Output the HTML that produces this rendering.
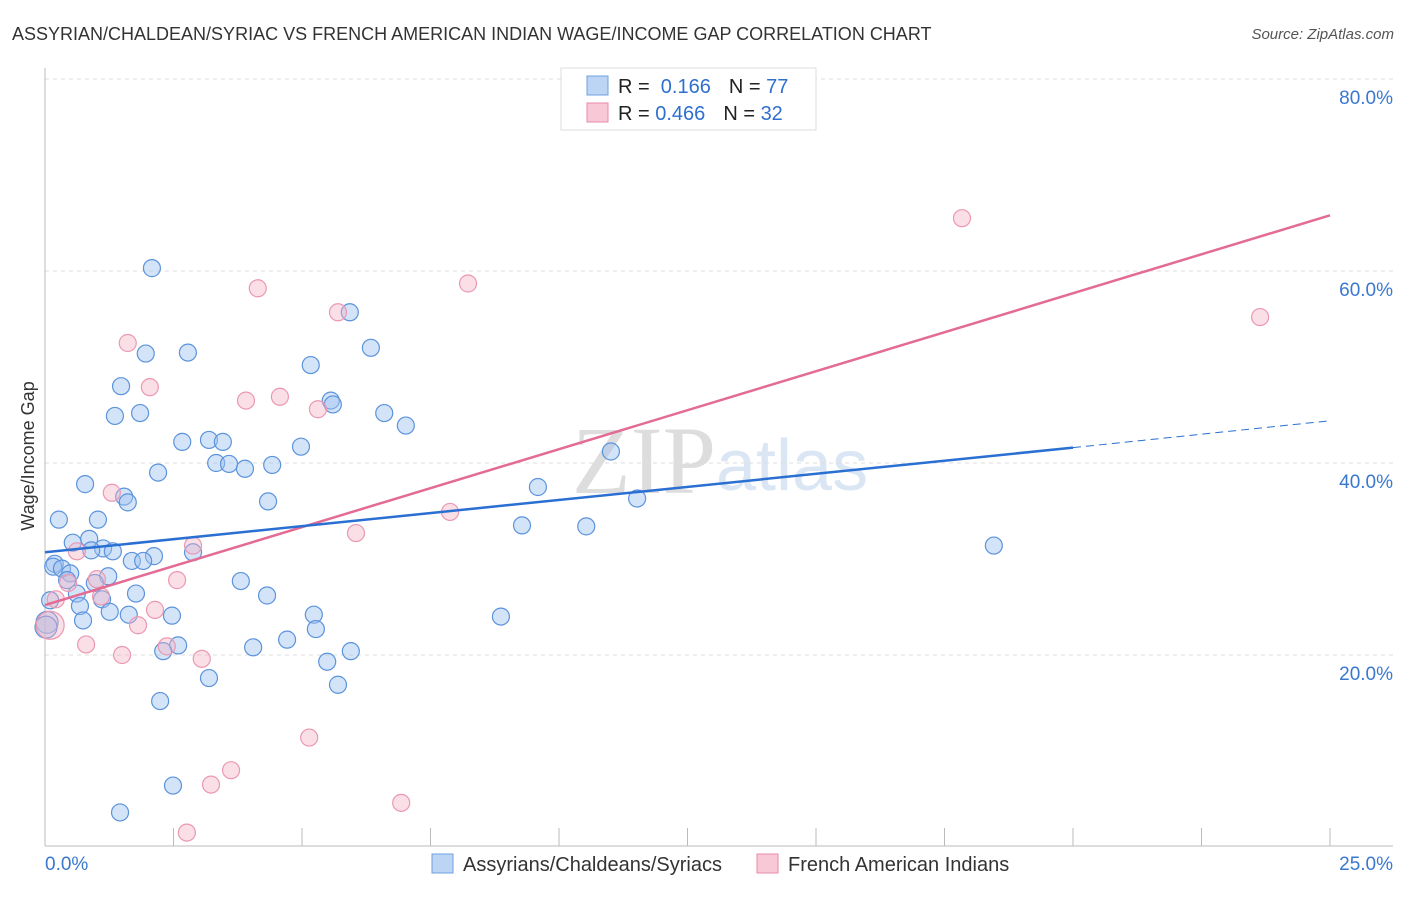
<!DOCTYPE html>
<html><head><meta charset="utf-8"><style>
body{margin:0;background:#fff;font-family:"Liberation Sans",sans-serif}
</style></head><body>
<svg id="chart" width="1406" height="892" xmlns="http://www.w3.org/2000/svg" font-family="Liberation Sans, sans-serif">
<text x="12" y="40" font-size="18" fill="#333">ASSYRIAN/CHALDEAN/SYRIAC VS FRENCH AMERICAN INDIAN WAGE/INCOME GAP CORRELATION CHART</text>
<text x="1394" y="39" font-size="15" fill="#555" font-style="italic" text-anchor="end">Source: ZipAtlas.com</text>
<text x="716" y="493" font-size="96" fill="#ddd" text-anchor="end" font-family="Liberation Serif, serif">ZIP</text>
<text x="716" y="490" font-size="72" fill="#dbe6f5">atlas</text>
<g id="grid"></g><g id="axes"></g><g id="pts"></g><g id="lines"></g>
<text x="34" y="456" font-size="18" fill="#333" text-anchor="middle" transform="rotate(-90 34 456)">Wage/Income Gap</text>
<g>
<rect x="561" y="68" width="255" height="62" fill="#fff" stroke="#ddd"/>
<rect x="587" y="76" width="21" height="19" fill="#bcd5f5" stroke="#6fa0e0"/>
<rect x="587" y="103" width="21" height="19" fill="#f9c8d6" stroke="#e88aa8"/>
<text x="618" y="93" font-size="20" fill="#222">R = <tspan fill="#2f6fd0">&#160;0.166</tspan><tspan dx="18">N = </tspan><tspan fill="#2f6fd0">77</tspan></text>
<text x="618" y="120" font-size="20" fill="#222">R = <tspan fill="#2f6fd0">0.466</tspan><tspan dx="18">N = </tspan><tspan fill="#2f6fd0">32</tspan></text>
</g>
<g>
<rect x="432" y="854" width="21" height="19" fill="#bcd5f5" stroke="#6fa0e0"/>
<text x="463" y="871" font-size="20" fill="#333">Assyrians/Chaldeans/Syriacs</text>
<rect x="757" y="854" width="21" height="19" fill="#f9c8d6" stroke="#e88aa8"/>
<text x="788" y="871" font-size="20" fill="#333">French American Indians</text>
</g>
</svg>
<script>
const yTicks=[20,40,60,80];
const xTickLabels=["0.0%","25.0%"];
const blueX=[2.08,1.96,2.78,5.93,6.34,5.17,1.48,1.36,1.85,5.56,5.60,6.60,7.02,2.67,3.19,3.46,4.98,3.33,3.58,3.89,4.42,2.20,11.01,0.78,9.59,4.34,1.54,1.61,11.52,0.27,1.03,9.28,10.53,18.46,0.54,0.86,1.13,1.32,0.90,2.12,1.69,1.91,2.88,0.19,0.16,0.33,0.49,0.43,1.23,0.97,3.81,0.62,1.77,1.11,4.32,0.10,0.68,1.26,1.63,2.47,5.23,8.87,0.74,5.27,4.71,2.59,2.30,4.05,5.95,5.49,3.19,5.70,2.24,2.49,1.46,0.04,0.02];
const blueY=[60.3,51.4,51.5,55.7,52.0,50.2,48.0,44.9,45.2,46.5,46.1,45.2,43.9,42.2,42.4,42.2,41.7,40.0,39.9,39.4,39.8,39.0,41.2,37.8,37.5,36.0,36.5,35.9,36.3,34.1,34.1,33.5,33.4,31.4,31.7,32.1,31.1,30.8,30.9,30.3,29.8,29.8,30.7,29.5,29.2,29.0,28.5,27.8,28.2,27.5,27.7,26.4,26.4,25.8,26.2,25.7,25.1,24.5,24.2,24.1,24.2,24.0,23.6,22.7,21.6,21.0,20.4,20.8,20.4,19.3,17.6,16.9,15.2,6.4,3.6,23.4,22.9];
const pinkX=[17.84,8.23,4.14,5.70,23.64,1.61,2.04,4.57,3.91,5.31,1.30,7.88,6.05,2.88,0.62,0.45,1.01,2.57,1.09,0.21,2.14,1.81,0.10,0.80,2.37,1.50,3.05,5.14,3.62,3.23,6.93,2.76];
const pinkY=[65.5,58.7,58.2,55.7,55.2,52.5,47.9,46.9,46.5,45.6,36.9,34.9,32.7,31.4,30.8,27.5,27.9,27.8,26.1,25.8,24.7,23.1,23.1,21.1,20.9,20.0,19.6,11.4,8.0,6.5,4.6,1.5];
const blueLine=[[0,30.7],[20,41.6]], blueDash=[[20,41.6],[25,44.4]];
const pinkLine=[[0,25.2],[25,65.8]];
const X=v=>45+v*51.4, Y=v=>847-v*9.6;
const NS="http://www.w3.org/2000/svg";
function mk(t,a,p){const e=document.createElementNS(NS,t);for(const k in a)e.setAttribute(k,a[k]);p.appendChild(e);return e;}
const gGrid=document.getElementById('grid'),gAx=document.getElementById('axes'),gPts=document.getElementById('pts'),gLn=document.getElementById('lines');
yTicks.forEach(t=>{const l=mk('line',{x1:45,x2:1393,y1:Y(t),y2:Y(t),stroke:'#ddd','stroke-dasharray':'4,4'},gGrid);


const tx=mk('text',{x:1393,y:Y(t)+25,'font-size':19,fill:'#3a78d0','text-anchor':'end'},gAx);tx.textContent=t.toFixed(1)+'%';

});
const topGrid=mk('line',{x1:45,x2:1393,y1:79,y2:79,stroke:'#ddd','stroke-dasharray':'4,4'},gGrid);


mk('line',{x1:45,x2:45,y1:68,y2:846,stroke:'#bbb'},gAx);
mk('line',{x1:45,x2:1393,y1:846,y2:846,stroke:'#bbb'},gAx);
for(let i=0;i<=10;i++){const t=mk('line',{x1:X(i*2.5),x2:X(i*2.5),y1:828,y2:846,stroke:'#bbb'},gAx);

}
[[xTickLabels[0],45,'start'],[xTickLabels[1],1393,'end']].forEach(([s,x,a])=>{const t=mk('text',{x:x,y:870,'font-size':19,fill:'#3a78d0','text-anchor':a},gAx);t.textContent=s;

});
blueX.forEach((v,i)=>{const c=mk('circle',{cx:X(v),cy:Y(blueY[i]),r:i>=75?11:8.5,fill:'rgba(160,195,240,0.45)',stroke:'#5b93dc','stroke-width':1.2},gPts);

});
pinkX.forEach((v,i)=>{const c=mk('circle',{cx:X(v),cy:Y(pinkY[i]),r:i==22?14:8.5,fill:'rgba(245,175,195,0.4)',stroke:'#eb98b2','stroke-width':1.2},gPts);

});
function L(d,col,dash,name){const e=mk('line',{x1:X(d[0][0]),y1:Y(d[0][1]),x2:X(d[1][0]),y2:Y(d[1][1]),stroke:col,'stroke-width':dash?1:2.5},gLn);if(dash)e.setAttribute('stroke-dasharray','8,5');

}
L(pinkLine,'#e36b94',false,'french-trend-line');
L(blueLine,'#2a6fd2',false,'assyrian-trend-line');
L(blueDash,'#2a6fd2',true,'assyrian-trend-extension');
</script>
</body></html>
